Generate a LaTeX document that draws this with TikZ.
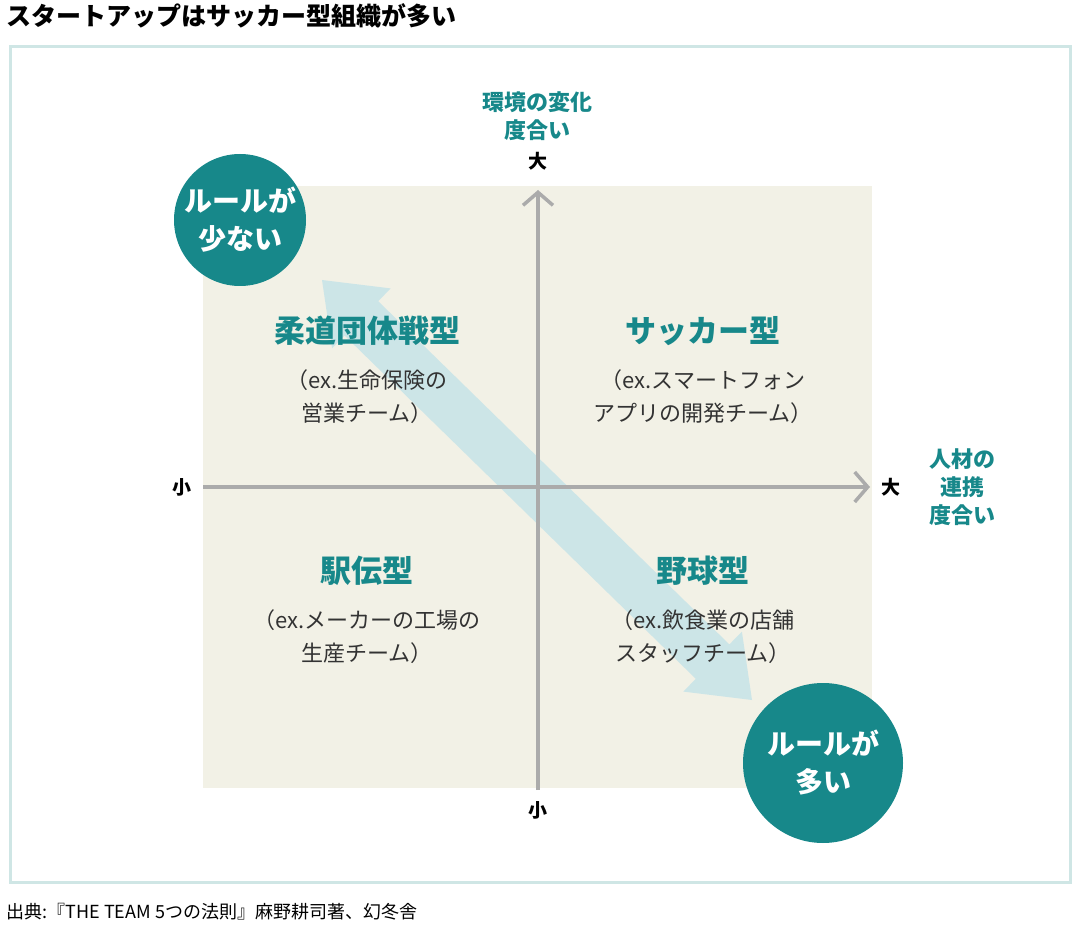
\documentclass[tikz,border=0pt]{standalone}
\usepackage{fontspec}
\setmainfont{Noto Sans CJK JP}
\usetikzlibrary{arrows.meta}
\definecolor{teal1}{HTML}{17888A}
\definecolor{frame}{HTML}{CFE6E5}
\definecolor{beige}{HTML}{F2F1E6}
\definecolor{axisg}{HTML}{ABABAB}
\definecolor{arr}{HTML}{C6E3E8}
\definecolor{txt}{HTML}{333333}
\tikzset{
 qtitle/.style={font=\fontsize{31}{36}\selectfont\bfseries, text=teal1},
 qsub/.style={font=\fontsize{22}{33}\selectfont, text=txt, align=center},
 axlab/.style={font=\fontsize{19}{22}\selectfont\bfseries, text=black},
 tlab/.style={font=\fontsize{22}{28}\selectfont\bfseries, text=teal1, align=center},
 circ/.style={circle, fill=teal1, text=white, align=center, font=\fontsize{28}{38}\selectfont\bfseries, inner sep=0pt},
 axis/.style={draw=axisg, line width=3.5pt, -{Straight Barb[length=13pt,width=30pt,line width=3.5pt]}}
}
\begin{document}
\begin{tikzpicture}[x=1pt,y=-1pt]
\useasboundingbox (0,0) rectangle (1080,928);
\node[anchor=west, font=\fontsize{25}{28}\selectfont\bfseries] (title) at (3,16) {スタートアップはサッカー型組織が多い};
\draw[frame, line width=3pt] (10,47) rectangle (1070,882);
\fill[beige] (203,186) rectangle (872,788);
\fill[arr, opacity=0.85] (322,280) -- (390.7,288.4) -- (378.2,301.2) -- (729.4,644.4) -- (741.9,631.6) -- (752,700) -- (683.3,691.6) -- (695.8,678.8) -- (344.6,335.6) -- (332.1,348.4) -- cycle;
\coordinate (vb) at (538,790); \coordinate (vt) at (538,190);
\coordinate (hl) at (203,487); \coordinate (hr) at (870,487);
\draw[axis] (vb) -- (vt);
\draw[axis] (hl) -- (hr);
\node[axlab] (vtop) at (538,161) {大};
\node[axlab] (vbot) at (538,810) {小};
\node[axlab] (hleft) at (182,487) {小};
\node[axlab] (hright) at (891,487) {大};
\node[tlab] (ylab) at (537,116) {環境の変化\\度合い};
\node[tlab] (xlab) at (962,487) {人材の\\連携\\度合い};
\node[circ, minimum size=132pt] (c1) at (240,220) {ルールが\\少ない};
\node[circ, minimum size=160pt] (c2) at (823,763) {ルールが\\多い};
\node[qtitle] (q1) at (367,331) {柔道団体戦型};
\node[qsub] (q1s) at (367,397) {（ex.生命保険の\\営業チーム）};
\node[qtitle] (q2) at (703,331) {サッカー型};
\node[qsub] (q2s) at (703,397) {（ex.スマートフォン\\アプリの開発チーム）};
\node[qtitle] (q3) at (367,571) {駅伝型};
\node[qsub] (q3s) at (367,637) {（ex.メーカーの工場の\\生産チーム）};
\node[qtitle] (q4) at (703,571) {野球型};
\node[qsub] (q4s) at (703,637) {（ex.飲食業の店舗\\スタッフチーム）};
\node[anchor=west, font=\fontsize{18}{22}\selectfont] (src) at (3,912) {出典:『THE TEAM 5つの法則』麻野耕司著、幻冬舎};
\end{tikzpicture}
\end{document}
